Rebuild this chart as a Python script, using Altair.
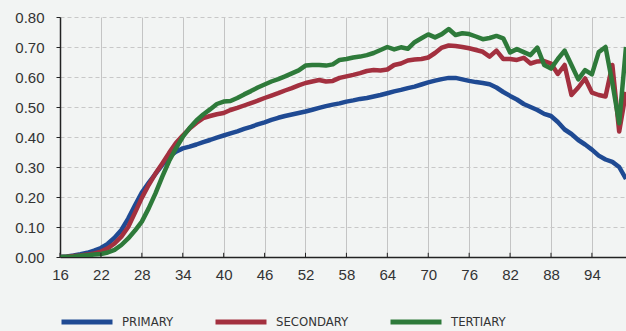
import altair as alt
import pandas as pd

ages = list(range(16, 100))

primary = [
    0.000, 0.002, 0.005, 0.009, 0.014, 0.021, 0.030, 0.044, 0.064, 0.090,
    0.128, 0.172, 0.215, 0.247, 0.277, 0.307, 0.334, 0.351, 0.362, 0.368,
    0.375, 0.383, 0.390, 0.398, 0.405, 0.412, 0.419, 0.427, 0.434, 0.442,
    0.449, 0.457, 0.464, 0.470, 0.475, 0.480, 0.485, 0.491, 0.497, 0.503,
    0.508, 0.512, 0.518, 0.522, 0.527, 0.530, 0.535, 0.540, 0.546, 0.552,
    0.557, 0.563, 0.568, 0.575, 0.582, 0.588, 0.593, 0.597, 0.597, 0.592,
    0.587, 0.583, 0.580, 0.576, 0.565, 0.550, 0.537, 0.525, 0.510, 0.500,
    0.490, 0.477, 0.470, 0.450, 0.425, 0.410, 0.390, 0.375, 0.358, 0.338,
    0.325, 0.317, 0.300, 0.260,
]

secondary = [
    0.000, 0.001, 0.003, 0.005, 0.008, 0.012, 0.018, 0.029, 0.045, 0.068,
    0.100, 0.148, 0.197, 0.240, 0.278, 0.312, 0.347, 0.380, 0.405, 0.428,
    0.447, 0.463, 0.470, 0.476, 0.480, 0.490, 0.497, 0.505, 0.513, 0.521,
    0.530, 0.538, 0.546, 0.555, 0.563, 0.572, 0.580, 0.585, 0.590, 0.585,
    0.587, 0.597, 0.602, 0.607, 0.613, 0.620, 0.623, 0.622, 0.625, 0.640,
    0.645, 0.655, 0.658, 0.660, 0.665, 0.680, 0.698, 0.705, 0.703, 0.700,
    0.696, 0.690, 0.684, 0.668, 0.688, 0.660, 0.660, 0.657, 0.664, 0.645,
    0.652, 0.653, 0.645, 0.610, 0.640, 0.540, 0.565, 0.595, 0.548, 0.540,
    0.535, 0.640, 0.418, 0.550,
]

tertiary = [
    0.000, 0.001, 0.002, 0.004, 0.006, 0.008, 0.010, 0.015, 0.024, 0.040,
    0.062, 0.088, 0.118, 0.162, 0.212, 0.268, 0.320, 0.362, 0.400, 0.430,
    0.455, 0.475, 0.492, 0.510, 0.518, 0.520, 0.530, 0.542, 0.553, 0.565,
    0.575, 0.585, 0.593, 0.602, 0.612, 0.622, 0.638, 0.640, 0.640, 0.638,
    0.642, 0.657, 0.660, 0.665, 0.668, 0.673, 0.680, 0.690, 0.700, 0.692,
    0.699, 0.694, 0.716, 0.729, 0.742, 0.732, 0.743, 0.760, 0.740, 0.746,
    0.743, 0.735, 0.726, 0.730, 0.737, 0.729, 0.682, 0.693, 0.683, 0.673,
    0.698, 0.640, 0.628, 0.660, 0.688, 0.640, 0.592, 0.623, 0.609, 0.683,
    0.700, 0.580, 0.446, 0.700,
]

levels = ["PRIMARY", "SECONDARY", "TERTIARY"]
colors = ["#1f4a93", "#a3303f", "#2e7a3a"]
x_ticks = [16, 22, 28, 34, 40, 46, 52, 58, 64, 70, 76, 82, 88, 94]
y_ticks = [0.0, 0.1, 0.2, 0.3, 0.4, 0.5, 0.6, 0.7, 0.8]

df = pd.DataFrame({
    "age": ages * 3,
    "value": primary + secondary + tertiary,
    "level": [levels[0]] * len(ages) + [levels[1]] * len(ages) + [levels[2]] * len(ages),
})
tick_df = pd.DataFrame({"age": x_ticks})

x_scale = alt.Scale(domain=[16, 99], nice=False, zero=False)
y_scale = alt.Scale(domain=[0, 0.8], nice=False, zero=True)

x_axis = alt.Axis(values=x_ticks, grid=True, gridColor="#c4c4c4", gridWidth=1,
                  ticks=False, domainColor="#222222", domainWidth=1.5,
                  labelFont="Liberation Sans", labelFontSize=15, labelColor="#333333",
                  labelPadding=10, labelFlush=False, labelOverlap=False)
y_axis = alt.Axis(values=y_ticks, format=".2f", grid=True, gridColor="#c8c8c8",
                  gridDash=[4, 3], gridWidth=1.2, tickSize=4, tickColor="#222222",
                  domainColor="#222222", domainWidth=1.5,
                  labelFont="Liberation Sans", labelFontSize=15, labelColor="#333333",
                  labelPadding=12, labelOverlap=False, labelFlush=False)

lines = alt.Chart(df).mark_line(strokeWidth=4.5, clip=True, strokeJoin="round").encode(
    x=alt.X("age:Q", scale=x_scale, title=None, axis=x_axis),
    y=alt.Y("value:Q", scale=y_scale, title=None, axis=y_axis),
    color=alt.Color("level:N", sort=levels,
                    scale=alt.Scale(domain=levels, range=colors),
                    legend=alt.Legend(title=None, orient="none", legendX=-1, legendY=277,
                                      direction="horizontal", symbolType="stroke",
                                      symbolSize=2600, symbolStrokeWidth=5,
                                      labelFont="'Liberation Sans Narrow', 'DejaVu Sans Condensed', Roboto, sans-serif",
                                      labelFontSize=13,
                                      labelColor="#333333", labelOffset=7, columnPadding=31)),
)

ticks = alt.Chart(tick_df).mark_rule(color="#222222", strokeWidth=1).encode(
    x=alt.X("age:Q", scale=x_scale, title=None, axis=x_axis),
    y=alt.YDatum(0, title=None, axis=y_axis),
    y2=alt.Y2Datum(0.014),
)

chart = alt.layer(lines, ticks).properties(
    width=566, height=240,
    autosize=alt.AutoSizeParams(type="none"),
    padding={"left": 60, "top": 17, "right": 0, "bottom": 74},
    background="#f2f4f3",
).configure_view(stroke=None)

chart.save("out.html", embed_options={"renderer": "svg", "actions": False})
